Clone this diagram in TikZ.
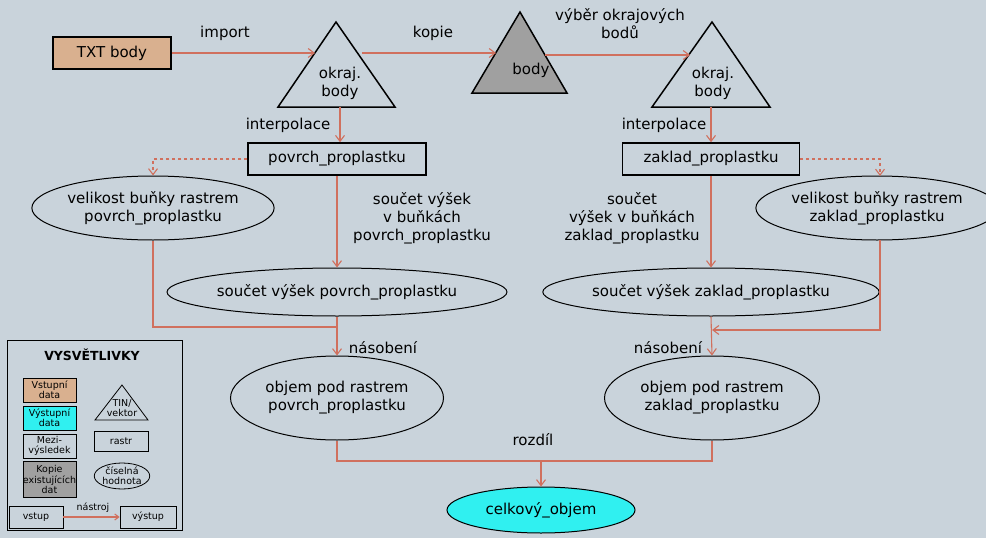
\documentclass[tikz,border=0pt]{standalone}
\usepackage{fontspec}
\setmainfont{DejaVu Sans}
\usetikzlibrary{arrows.meta,shapes.geometric}
\definecolor{bg}{HTML}{C9D3DB}
\definecolor{ln}{HTML}{D0705E}
\definecolor{tan}{HTML}{D9B08F}
\definecolor{cy}{HTML}{30F0F0}
\definecolor{gr}{HTML}{A0A0A0}
\begin{document}
\begin{tikzpicture}[x=1pt,y=-1pt,
  every node/.style={font=\fontsize{15}{18}\selectfont,align=center,inner sep=0pt},
  box/.style={draw,line width=1.5pt},
  ell/.style={draw,ellipse,line width=1pt},
  con/.style={ln,line width=1.1pt},
  arr/.style={con,-{Straight Barb[length=6pt,width=9pt]}},
  lg/.style={font=\fontsize{9.5}{10.5}\selectfont},
  lbox/.style={draw,line width=0.8pt}]
\fill[bg] (0,0) rectangle (986,538);
\useasboundingbox (0,0) rectangle (986,538);
% triangles
\draw[line width=1.5pt] (336,22) -- (395,107) -- (278,107) -- cycle;
\draw[line width=1.5pt,fill=gr] (520,12) -- (567,93) -- (472,93) -- cycle;
\draw[line width=1.5pt] (712,22) -- (770,107) -- (652,107) -- cycle;
\node (t1) at (340,83) {okraj.\\body};
\node (t2) at (531,70) {body};
\node (t3) at (713,83) {okraj.\\body};
\coordinate (t1l) at (315,53); \coordinate (t1r) at (362,53);
\coordinate (t2l) at (496,53); \coordinate (t2r) at (545,55);
\coordinate (t3l) at (690,55);
\coordinate (t1b) at (340,107); \coordinate (t3b) at (711,107);
% boxes
\node[box,fill=tan,minimum width=118pt,minimum height=32pt] (txt) at (112,53) {TXT body};
\node[box,minimum width=178pt,minimum height=32pt] (pp) at (337,159) {povrch\_proplastku};
\node[box,minimum width=177pt,minimum height=32pt] (zp) at (711,159) {zaklad\_proplastku};
% ellipses
\node[ell,minimum width=210pt,minimum height=64pt] (vb1) at (153,208) {velikost buňky rastrem\\povrch\_proplastku};
\node[ell,minimum width=209pt,minimum height=64pt] (vb2) at (877,208) {velikost buňky rastrem\\zaklad\_proplastku};
\node[ell,minimum width=296pt,minimum height=48pt] (sv1) at (337,292) {součet výšek povrch\_proplastku};
\node[ell,minimum width=297pt,minimum height=48pt] (sv2) at (711,292) {součet výšek zaklad\_proplastku};
\node[ell,minimum width=213pt,minimum height=84pt] (ob1) at (337,398) {objem pod rastrem\\povrch\_proplastku};
\node[ell,minimum width=215pt,minimum height=84pt] (ob2) at (712,398) {objem pod rastrem\\zaklad\_proplastku};
\node[ell,fill=cy,minimum width=188pt,minimum height=46pt] (co) at (541,510) {celkový\_objem};
% labels
\node at (225,33) {import};
\node at (433,33) {kopie};
\node at (620,24) {výběr okrajových\\bodů};
\node at (288,125) {interpolace};
\node at (664,125) {interpolace};
\node at (422,218) {součet výšek\\v buňkách\\povrch\_proplastku};
\node at (632,218) {součet\\výšek v buňkách\\zaklad\_proplastku};
\node at (383,348) {násobení};
\node at (668,348) {násobení};
\node at (533,440) {rozdíl};
% connectors
\draw[arr] (txt.east) -- (t1l);
\draw[arr] (t1r) -- (t2l);
\draw[arr] (t2r) -- (t3l);
\draw[arr] (t1b) -- (pp.north -| t1b);
\draw[arr] (t3b) -- (zp.north -| t3b);
\draw[arr,dashed] (pp.west) -- (153,159) -- (vb1.north);
\draw[arr,dashed] (zp.east) -- (880,159) -- (880,176);
\draw[arr] (pp.south) -- (sv1.north);
\draw[arr] (zp.south) -- (sv2.north);
\draw[con] (vb1.south) -- (153,327) -- (337,327);
\draw[arr] (sv1.south) -- (ob1.north);
\draw[arr] (880,240) -- (880,330) -- (712,330);
\draw[arr] (sv2.south) -- (ob2.north);
\draw[con] (ob1.south) -- (337,461) -- (712,461) -- (ob2.south);
\draw[arr] (541,461) -- (co.north);
% legend
\draw[line width=0.8pt] (7,340) rectangle (182,530);
\node[font=\bfseries\fontsize{12.5}{14}\selectfont] (lt) at (92,355) {VYSVĚTLIVKY};
\node[lbox,lg,fill=tan,minimum width=53pt,minimum height=24pt] (l1) at (49.5,390) {Vstupní\\data};
\node[lbox,lg,fill=cy,minimum width=53pt,minimum height=24pt] (l2) at (49.5,418) {Výstupní\\data};
\node[lbox,lg,minimum width=53pt,minimum height=24pt] (l3) at (49.5,446) {Mezi-\\výsledek};
\node[lbox,lg,fill=gr,minimum width=53pt,minimum height=36pt] (l4) at (49.5,479.5) {Kopie\\existujících\\dat};
\draw[line width=0.8pt] (122,385) -- (148,420) -- (95,420) -- cycle;
\node[lg] (l5) at (122,408) {TIN/\\vektor};
\node[lbox,lg,minimum width=54pt,minimum height=20pt] (l6) at (121,441) {rastr};
\node[lbox,ellipse,lg,minimum width=54pt,minimum height=26pt] (l7) at (122,476) {číselná\\hodnota};
\node[lbox,lg,minimum width=54pt,minimum height=22pt] (l8) at (36,517) {vstup};
\node[lbox,lg,minimum width=56pt,minimum height=22pt] (l9) at (148,517) {výstup};
\draw[con,-{Straight Barb[length=4pt,width=6pt]}] (l8.east) -- (l9.west);
\node[lg] at (93,508) {nástroj};
\end{tikzpicture}
\end{document}
